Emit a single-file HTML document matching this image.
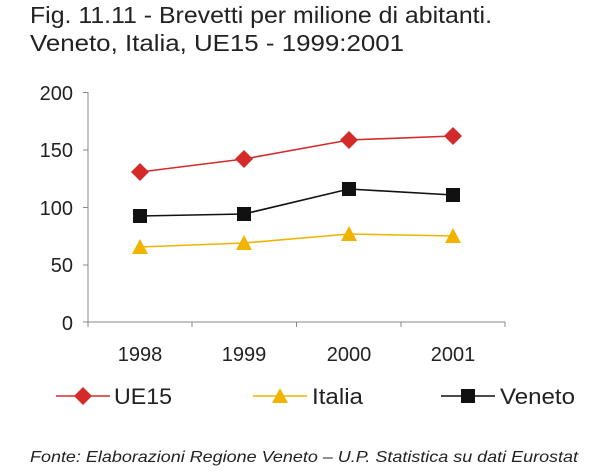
<!DOCTYPE html>
<html><head><style>body{margin:0;background:#fff}</style></head><body>
<svg width="600" height="468" xmlns="http://www.w3.org/2000/svg" font-family="Liberation Sans, sans-serif">
<rect width="600" height="468" fill="#fff"/>
<text x="30" y="23" font-size="23" fill="#222" textLength="462" lengthAdjust="spacingAndGlyphs">Fig. 11.11 - Brevetti per milione di abitanti.</text>
<text x="30" y="51" font-size="23" fill="#222" textLength="374" lengthAdjust="spacingAndGlyphs">Veneto, Italia, UE15 - 1999:2001</text>
<g stroke="#888" stroke-width="1">
<line x1="88" y1="92" x2="88" y2="322"/>
<line x1="88" y1="322" x2="505" y2="322"/>
<line x1="83" y1="92.5" x2="88" y2="92.5"/>
<line x1="83" y1="150" x2="88" y2="150"/>
<line x1="83" y1="207.5" x2="88" y2="207.5"/>
<line x1="83" y1="265" x2="88" y2="265"/>
<line x1="83" y1="322" x2="88" y2="322"/>
<line x1="88" y1="322" x2="88" y2="327"/>
<line x1="192" y1="322" x2="192" y2="327"/>
<line x1="296.5" y1="322" x2="296.5" y2="327"/>
<line x1="401" y1="322" x2="401" y2="327"/>
<line x1="505" y1="322" x2="505" y2="327"/>
</g>
<g font-size="20" fill="#222" text-anchor="end">
<text x="73" y="100">200</text><text x="73" y="157">150</text><text x="73" y="215">100</text><text x="73" y="272">50</text><text x="73" y="330">0</text>
</g>
<g font-size="20" fill="#222" text-anchor="middle">
<text x="140" y="361">1998</text><text x="244" y="361">1999</text><text x="349" y="361">2000</text><text x="453" y="361">2001</text>
</g>
<polyline points="140,247 244,243 349,234 453,236" fill="none" stroke="#f0b400" stroke-width="1.6"/>
<polyline points="140,216 244,214 349,189 453,195" fill="none" stroke="#111" stroke-width="1.6"/>
<polyline points="140,172 244,159 349,140 453,136" fill="none" stroke="#d42a2a" stroke-width="1.6"/>
<g fill="#f0b400"><path d="M140,239 L148,254 L132,254Z"/><path d="M244,235 L252,250 L236,250Z"/><path d="M349,226 L357,241 L341,241Z"/><path d="M453,228 L461,243 L445,243Z"/></g>
<g fill="#111"><rect x="133" y="209" width="14" height="14"/><rect x="237" y="207" width="14" height="14"/><rect x="342" y="182" width="14" height="14"/><rect x="446" y="188" width="14" height="14"/></g>
<g fill="#d42a2a"><path d="M140,163 L149,172 L140,181 L131,172Z"/><path d="M244,150 L253,159 L244,168 L235,159Z"/><path d="M349,131 L358,140 L349,149 L340,140Z"/><path d="M453,127 L462,136 L453,145 L444,136Z"/></g>
<line x1="56" y1="396" x2="110" y2="396" stroke="#d42a2a" stroke-width="1.6"/>
<path d="M83,387 L92,396 L83,405 L74,396Z" fill="#d42a2a"/>
<text x="114" y="404" font-size="22" fill="#222" textLength="58" lengthAdjust="spacingAndGlyphs">UE15</text>
<line x1="253" y1="396" x2="307" y2="396" stroke="#f0b400" stroke-width="1.6"/>
<path d="M280,388 L288,403 L272,403Z" fill="#f0b400"/>
<text x="312" y="404" font-size="22" fill="#222" textLength="51" lengthAdjust="spacingAndGlyphs">Italia</text>
<line x1="441" y1="396" x2="495" y2="396" stroke="#111" stroke-width="1.6"/>
<rect x="461" y="389" width="14" height="14" fill="#111"/>
<text x="500" y="404" font-size="22" fill="#222" textLength="75" lengthAdjust="spacingAndGlyphs">Veneto</text>
<text x="30" y="462" font-size="16" font-style="italic" fill="#222" textLength="548" lengthAdjust="spacingAndGlyphs">Fonte: Elaborazioni Regione Veneto – U.P. Statistica su dati Eurostat</text>
</svg>
</body></html>
